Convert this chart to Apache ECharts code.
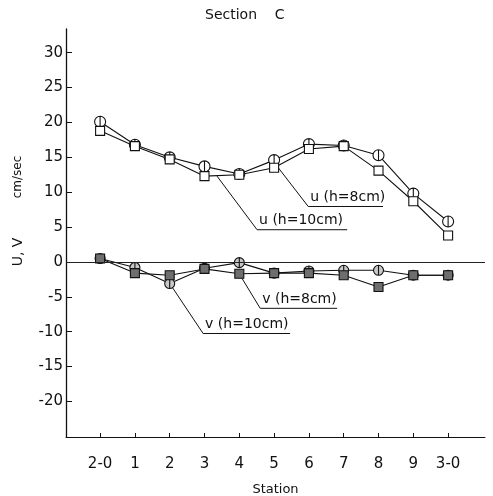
<!DOCTYPE html>
<html><head><meta charset="utf-8">
<script src="https://cdn.jsdelivr.net/npm/echarts@6/dist/echarts.min.js"></script>
<style>html,body{margin:0;padding:0;background:#fff}#c{width:493px;height:496px}</style>
</head><body><div id="c"></div>
<script>
const categories = ['2-0','1','2','3','4','5','6','7','8','9','3-0'];
const stationIdx = [0,1,2,3,4,5,6,7,8,9,10];
const uH8  = [20.1, 16.8, 15.0, 13.7, 12.6, 14.6, 16.9, 16.7, 15.3, 9.8, 5.8];
const uH10 = [18.8, 16.6, 14.7, 12.3, 12.5, 13.5, 16.2, 16.6, 13.1, 8.7, 3.8];
const vH10 = [0.5, -0.8, -3.1, -0.9, -0.1, -1.6, -1.3, -1.2, -1.2, -1.9, -1.9];
const vH8  = [0.5, -1.6, -1.9, -1.0, -1.7, -1.6, -1.6, -1.9, -3.6, -1.9, -1.9];
const yTicks = [-20,-15,-10,-5,0,5,10,15,20,25,30];

const FONT = 'DejaVu Sans';
const circleBar = 'path://M0,-10A10,10 0 1,1 0,10A10,10 0 1,1 0,-10ZM0,-10L0,10';
const pair = (ys) => stationIdx.map((x,i)=>[x, ys[i]]);

const chart = echarts.init(document.getElementById('c'));
const lineCommon = { type:'line', lineStyle:{color:'#111', width:1.1}, symbolKeepAspect:true, z:3 };

chart.setOption({
  animation:false,
  backgroundColor:'#fff',
  title:{ text:'Section    C', left:200, top:3, textStyle:{fontFamily:FONT, fontSize:14, fontWeight:'normal', color:'#111'} },
  grid:{ left:66, right:8, top:29, bottom:59, outerBoundsMode:'none', containLabel:false },
  xAxis:{ type:'value', min:-0.98, max:11.06,
    name:'Station', nameLocation:'middle', nameGap:46,
    nameTextStyle:{fontFamily:FONT, fontSize:13, color:'#111'},
    axisLine:{onZero:false, lineStyle:{color:'#111', width:1}},
    axisTick:{ inside:true, length:4, lineStyle:{color:'#111'}, customValues: stationIdx },
    axisLabel:{ customValues: stationIdx, margin:20, fontFamily:FONT, fontSize:15, color:'#111',
      formatter:(v)=>categories[Math.round(v)] },
    splitLine:{show:false}
  },
  yAxis:{ type:'value', min:-25.1, max:33.4,
    axisLine:{show:true, onZero:false, lineStyle:{color:'#111', width:1.3}},
    axisTick:{ inside:true, length:6, lineStyle:{color:'#111'}, customValues: yTicks },
    axisLabel:{ customValues: yTicks, margin:3, fontFamily:FONT, fontSize:15, color:'#111' },
    splitLine:{show:false}
  },
  series:[
    Object.assign({}, lineCommon, { name:'u(h=8cm)', data:pair(uH8), symbol:circleBar, symbolSize:11,
      itemStyle:{color:'#fff', borderColor:'#111', borderWidth:1.1} }),
    Object.assign({}, lineCommon, { name:'u(h=10cm)', data:pair(uH10), symbol:'rect', symbolSize:9,
      itemStyle:{color:'#fff', borderColor:'#111', borderWidth:1.1} }),
    Object.assign({}, lineCommon, { name:'v(h=10cm)', data:pair(vH10), symbol:circleBar, symbolSize:10,
      itemStyle:{color:'#c8c8c8', borderColor:'#111', borderWidth:1.1},
      markLine:{ silent:true, symbol:'none', label:{show:false}, lineStyle:{color:'#222', width:1, type:'solid'},
        data:[{yAxis:0}] } }),
    Object.assign({}, lineCommon, { name:'v(h=8cm)', data:pair(vH8), symbol:'rect', symbolSize:9,
      itemStyle:{color:'#6e6e6e', borderColor:'#111', borderWidth:1.1} })
  ]
});

// leader-line annotations in data coordinates: [start, elbow, end of underline]
const notes = [
  { text:'u (h=8cm)',  pts:[[5.09,13.7],[5.98,7.95],[8.13,7.95]] },
  { text:'u (h=10cm)', pts:[[3.36,12.3],[4.51,4.62],[7.10,4.62]] },
  { text:'v (h=8cm)',  pts:[[4.02,-1.88],[4.60,-6.65],[6.81,-6.65]] },
  { text:'v (h=10cm)', pts:[[2.07,-3.61],[2.96,-10.26],[5.46,-10.26]] }
];
const graphics = [];
notes.forEach(n=>{
  const p = n.pts.map(d=>chart.convertToPixel({gridIndex:0}, d));
  graphics.push({ type:'polyline', shape:{points:p}, style:{stroke:'#111', lineWidth:1, fill:null}, z:2 });
  graphics.push({ type:'text', x:p[1][0]+2, y:p[1][1]-2,
    style:{ text:n.text, fontFamily:FONT, fontSize:14, fill:'#111', verticalAlign:'bottom' }, z:4 });
});
graphics.push({ type:'text', x:18, y:177, rotation:Math.PI/2,
  style:{ text:'cm/sec', fontFamily:FONT, fontSize:12, fill:'#111', align:'center', verticalAlign:'middle' } });
graphics.push({ type:'text', x:18, y:252, rotation:Math.PI/2,
  style:{ text:'U, V', fontFamily:FONT, fontSize:14, fill:'#111', align:'center', verticalAlign:'middle' } });
chart.setOption({ graphic: graphics });
</script>
</body></html>
